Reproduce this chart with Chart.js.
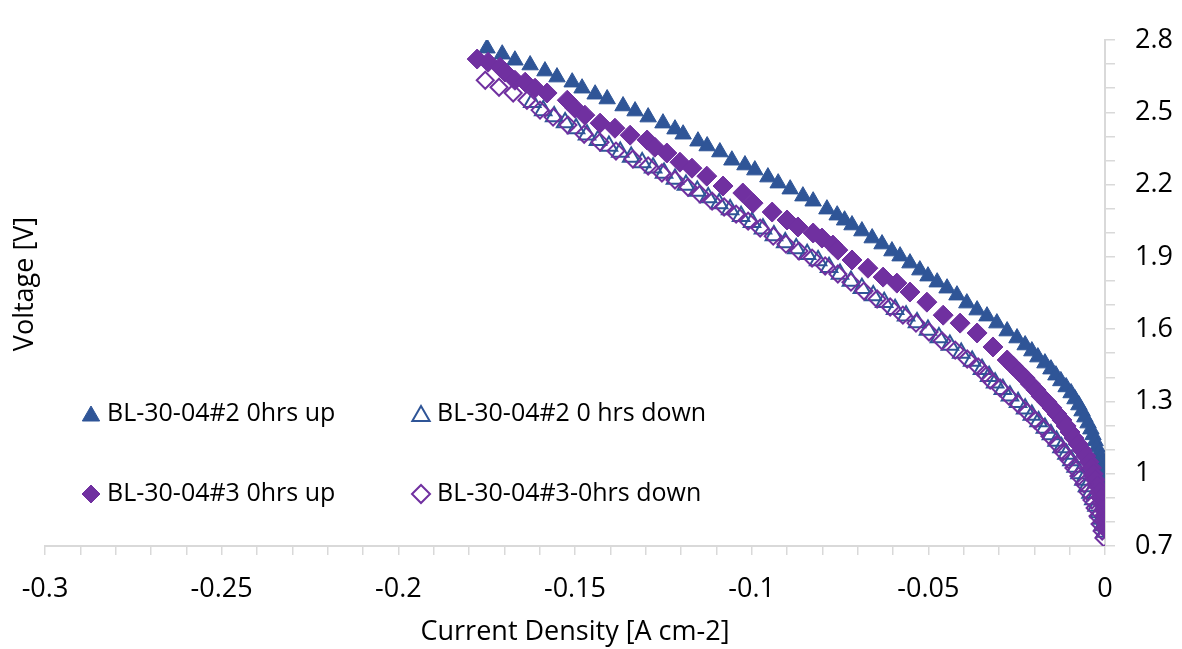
<!DOCTYPE html>
<html>
<head>
<meta charset="utf-8">
<style>
  body { margin: 0; background: #ffffff; }
  #iv-canvas { display: block; }
</style>
</head>
<body>
<canvas id="iv-canvas" width="1182" height="649"></canvas>
<script src="https://cdn.jsdelivr.net/npm/chart.js@4.4.1/dist/chart.umd.min.js"></script>
<script>
  // BL-30-04#2 0hrs up  (current density [A cm-2], voltage [V])
  let up2_i = [-0.1749, -0.1706, -0.1670, -0.1627, -0.1585, -0.1551, -0.1508, -0.1480, -0.1443, -0.1409,
               -0.1364, -0.1330, -0.1293, -0.1251, -0.1217, -0.1194, -0.1152, -0.1126, -0.1090, -0.1056,
               -0.1019, -0.0991, -0.0954, -0.0925, -0.0891, -0.0855, -0.0826, -0.0787, -0.0758, -0.0737,
               -0.0716, -0.0688, -0.0659, -0.0631, -0.0603, -0.0580, -0.0552, -0.0524, -0.0501, -0.0475,
               -0.0447, -0.0419, -0.0391, -0.0362, -0.0334, -0.0306, -0.0277, -0.0249, -0.0226, -0.0207,
               -0.0190, -0.0170, -0.0153, -0.0139, -0.0125, -0.0110, -0.0096, -0.0085, -0.0074, -0.0065,
               -0.0057, -0.0048, -0.0040, -0.0034, -0.0028, -0.0023, -0.0017, -0.0014, -0.0011, -0.0008,
               -0.0006, -0.0003, -0.0002, -0.0001, -0.0001, -0.00005, -0.00003, -0.00002];
  let up2_v = [2.766, 2.741, 2.716, 2.696, 2.671, 2.646, 2.625, 2.600, 2.575, 2.555,
               2.526, 2.505, 2.480, 2.455, 2.430, 2.409, 2.380, 2.360, 2.335, 2.301,
               2.281, 2.260, 2.231, 2.206, 2.181, 2.152, 2.131, 2.098, 2.073, 2.052,
               2.032, 2.007, 1.978, 1.953, 1.924, 1.903, 1.874, 1.845, 1.820, 1.795,
               1.770, 1.741, 1.708, 1.679, 1.654, 1.625, 1.592, 1.563, 1.534, 1.509,
               1.484, 1.459, 1.434, 1.409, 1.385, 1.360, 1.335, 1.310, 1.285, 1.260,
               1.235, 1.210, 1.185, 1.161, 1.136, 1.111, 1.086, 1.061, 1.036, 1.011,
               0.986, 0.961, 0.936, 0.912, 0.887, 0.862, 0.837, 0.812];

  // BL-30-04#2 0 hrs down
  let down2_i = [-0.1621, -0.1590, -0.1559, -0.1528, -0.1497, -0.1466, -0.1435, -0.1404, -0.1372, -0.1341,
                 -0.1310, -0.1279, -0.1248, -0.1217, -0.1186, -0.1154, -0.1123, -0.1092, -0.1061, -0.1030,
                 -0.0999, -0.0968, -0.0937, -0.0905, -0.0874, -0.0843, -0.0812, -0.0781, -0.0750, -0.0719,
                 -0.0688, -0.0656, -0.0625, -0.0594, -0.0563, -0.0532, -0.0501, -0.0470, -0.0439, -0.0407,
                 -0.0376, -0.0348, -0.0328, -0.0311, -0.0289, -0.0269, -0.0246, -0.0226, -0.0207, -0.0188,
                 -0.0170, -0.0153, -0.0137, -0.0123, -0.0109, -0.0095, -0.0083, -0.0072, -0.0061, -0.0051,
                 -0.0041, -0.0033, -0.0024, -0.0017, -0.0011, -0.0007, -0.0001];
  let down2_v = [2.542, 2.507, 2.482, 2.458, 2.433, 2.407, 2.384, 2.360, 2.335, 2.314,
                 2.292, 2.270, 2.248, 2.223, 2.198, 2.173, 2.146, 2.121, 2.097, 2.069,
                 2.044, 2.017, 1.989, 1.960, 1.935, 1.911, 1.885, 1.857, 1.829, 1.800,
                 1.770, 1.740, 1.712, 1.683, 1.656, 1.628, 1.596, 1.565, 1.534, 1.501,
                 1.468, 1.434, 1.405, 1.378, 1.351, 1.324, 1.297, 1.270, 1.244, 1.217,
                 1.190, 1.163, 1.136, 1.109, 1.082, 1.055, 1.028, 1.001, 0.974, 0.947,
                 0.920, 0.893, 0.866, 0.839, 0.812, 0.785, 0.758];

  // BL-30-04#3 0hrs up
  let up3_i = [-0.1777, -0.1746, -0.1712, -0.1698, -0.1670, -0.1641, -0.1613, -0.1579, -0.1522, -0.1500,
               -0.1472, -0.1429, -0.1387, -0.1344, -0.1296, -0.1274, -0.1240, -0.1203, -0.1169, -0.1127,
               -0.1081, -0.1025, -0.0996, -0.0942, -0.0900, -0.0869, -0.0826, -0.0801, -0.0770, -0.0756,
               -0.0716, -0.0671, -0.0628, -0.0589, -0.0552, -0.0504, -0.0458, -0.0410, -0.0362, -0.0317,
               -0.0277, -0.0260, -0.0243, -0.0226, -0.0211, -0.0195, -0.0181, -0.0164, -0.0150, -0.0136,
               -0.0122, -0.0110, -0.0099, -0.0088, -0.0076, -0.0065, -0.0054, -0.0045, -0.0038, -0.0033,
               -0.0027, -0.0021, -0.0016, -0.0011, -0.0007, -0.0004, -0.0002, -0.0001, -0.00005];
  let up3_v = [2.721, 2.708, 2.687, 2.667, 2.633, 2.625, 2.600, 2.580, 2.550, 2.517,
               2.488, 2.455, 2.434, 2.405, 2.385, 2.355, 2.331, 2.293, 2.268, 2.235,
               2.194, 2.165, 2.123, 2.086, 2.053, 2.024, 1.999, 1.978, 1.949, 1.928,
               1.887, 1.853, 1.816, 1.791, 1.754, 1.712, 1.658, 1.625, 1.584, 1.526,
               1.472, 1.447, 1.422, 1.397, 1.372, 1.347, 1.322, 1.297, 1.273, 1.248,
               1.223, 1.198, 1.173, 1.148, 1.123, 1.098, 1.073, 1.049, 1.024, 0.999,
               0.974, 0.949, 0.924, 0.899, 0.874, 0.849, 0.824, 0.800, 0.775];

  // BL-30-04#3-0hrs down
  let down3_i = [-0.1754, -0.1715, -0.1675, -0.1636, -0.1599, -0.1562, -0.1520, -0.1474, -0.1429, -0.1384,
                 -0.1336, -0.1293, -0.1254, -0.1217, -0.1180, -0.1146, -0.1112, -0.1078, -0.1044, -0.1010,
                 -0.0976, -0.0939, -0.0903, -0.0866, -0.0829, -0.0792, -0.0756, -0.0719, -0.0682, -0.0645,
                 -0.0608, -0.0572, -0.0535, -0.0498, -0.0461, -0.0424, -0.0390, -0.0359, -0.0340, -0.0325,
                 -0.0297, -0.0272, -0.0246, -0.0221, -0.0198, -0.0175, -0.0156, -0.0136, -0.0119, -0.0102,
                 -0.0088, -0.0074, -0.0059, -0.0048, -0.0037, -0.0028, -0.0020, -0.0014, -0.0008, -0.0003];
  let down3_v = [2.633, 2.604, 2.580, 2.550, 2.509, 2.480, 2.447, 2.409, 2.376, 2.339,
                 2.306, 2.277, 2.248, 2.219, 2.189, 2.160, 2.131, 2.107, 2.077, 2.048,
                 2.019, 1.986, 1.953, 1.924, 1.895, 1.862, 1.829, 1.795, 1.758, 1.725,
                 1.692, 1.658, 1.625, 1.588, 1.551, 1.513, 1.476, 1.443, 1.414, 1.389,
                 1.356, 1.322, 1.289, 1.256, 1.223, 1.190, 1.156, 1.123, 1.090, 1.057,
                 1.024, 0.990, 0.957, 0.924, 0.891, 0.858, 0.824, 0.791, 0.762, 0.733];

  // Axis tick labels
  let x_tick_labels = ['-0.3', '-0.25', '-0.2', '-0.15', '-0.1', '-0.05', '0'];
  let y_tick_labels = ['0.7', '1', '1.3', '1.6', '1.9', '2.2', '2.5', '2.8'];

  let blue = '#2f5597';
  let purple = '#7030a0';
  let axis_grey = '#d9d9d9';
  let font_family = '"Open Sans", "Noto Sans", sans-serif';

  let to_points = function(i_list, v_list) {
    return i_list.map(function(x, k) { return {x: x, y: v_list[k]}; });
  };

  // Only some of the (minor) ticks get a label
  let tick_label = function(labels, value) {
    for (let k = 0; k < labels.length; k++) {
      if (Math.abs(parseFloat(labels[k]) - value) < 1e-6) return labels[k];
    }
    return '';
  };

  // Legend sits inside the plot area, two columns; Y title is on the left
  let legend_spots = [
    {ds: 0, x: 91, y: 414},
    {ds: 1, x: 421, y: 414},
    {ds: 2, x: 91, y: 494},
    {ds: 3, x: 421, y: 494}
  ];
  let custom_legend = {
    id: 'customLegend',
    afterDraw: function(chart) {
      let ctx = chart.ctx;
      ctx.save();
      legend_spots.forEach(function(spot) {
        let ds = chart.data.datasets[spot.ds];
        let is_tri = ds.pointStyle === 'triangle';
        ctx.fillStyle = ds.backgroundColor;
        ctx.strokeStyle = ds.borderColor;
        ctx.lineWidth = ds.borderWidth;
        Chart.helpers.drawPoint(ctx, {
          pointStyle: ds.pointStyle,
          radius: is_tri ? 10 : 9,
          rotation: 0,
          borderWidth: ds.borderWidth
        }, spot.x, spot.y + (is_tri ? 2 : 0));
        ctx.fillStyle = '#000000';
        ctx.font = '25px ' + font_family;
        ctx.textAlign = 'left';
        ctx.textBaseline = 'middle';
        ctx.fillText(ds.label, spot.x + 16, spot.y);
      });
      // Y axis title on the left side of the plot
      ctx.translate(25, 284);
      ctx.rotate(-Math.PI / 2);
      ctx.textAlign = 'center';
      ctx.textBaseline = 'middle';
      ctx.fillStyle = '#000000';
      ctx.font = '27px ' + font_family;
      ctx.fillText('Voltage [V]', 0, 0);
      ctx.restore();
    }
  };

  let iv_canvas = document.getElementById('iv-canvas');
  let iv_chart = new Chart(iv_canvas.getContext('2d'), {
    type: 'scatter',
    data: {
      datasets: [
        {
          label: 'BL-30-04#2 0hrs up',
          data: to_points(up2_i, up2_v),
          pointStyle: 'triangle',
          pointRadius: 9.5,
          borderWidth: 1,
          backgroundColor: blue,
          borderColor: blue,
          order: 4
        },
        {
          label: 'BL-30-04#2 0 hrs down',
          data: to_points(down2_i, down2_v),
          pointStyle: 'triangle',
          pointRadius: 9.5,
          borderWidth: 2,
          backgroundColor: 'rgba(255,255,255,0)',
          borderColor: blue,
          order: 3
        },
        {
          label: 'BL-30-04#3 0hrs up',
          data: to_points(up3_i, up3_v),
          pointStyle: 'rectRot',
          pointRadius: 10,
          borderWidth: 1,
          backgroundColor: purple,
          borderColor: purple,
          order: 2
        },
        {
          label: 'BL-30-04#3-0hrs down',
          data: to_points(down3_i, down3_v),
          pointStyle: 'rectRot',
          pointRadius: 8.5,
          borderWidth: 2,
          backgroundColor: 'rgba(255,255,255,0)',
          borderColor: purple,
          order: 1
        }
      ]
    },
    options: {
      responsive: false,
      animation: false,
      layout: { padding: { left: 45, top: 40, right: 0, bottom: 0 } },
      plugins: {
        legend: { display: false },
        tooltip: { enabled: false }
      },
      scales: {
        x: {
          type: 'linear',
          position: 'bottom',
          min: -0.3,
          max: 0,
          afterFit: function(scale) { scale.height = 103; },
          ticks: {
            stepSize: 0.01,
            autoSkip: false,
            maxRotation: 0,
            padding: 18,
            color: '#000000',
            font: { family: font_family, size: 27 },
            callback: function(value) { return tick_label(x_tick_labels, value); }
          },
          grid: { drawOnChartArea: false, drawTicks: true, tickLength: 9, color: axis_grey, lineWidth: 1.5 },
          border: { color: axis_grey, width: 2 },
          title: {
            display: true,
            text: 'Current Density [A cm-2]',
            color: '#000000',
            font: { family: font_family, size: 27 },
            padding: { top: 0, bottom: 0 }
          }
        },
        y: {
          type: 'linear',
          position: 'right',
          min: 0.7,
          max: 2.8,
          afterFit: function(scale) { scale.width = 77; },
          ticks: {
            stepSize: 0.1,
            autoSkip: false,
            padding: 20,
            color: '#000000',
            font: { family: font_family, size: 27 },
            callback: function(value) { return tick_label(y_tick_labels, value); }
          },
          grid: { drawOnChartArea: false, drawTicks: true, tickLength: 10, color: axis_grey, lineWidth: 1.5 },
          border: { color: axis_grey, width: 2 }
        }
      }
    },
    plugins: [custom_legend]
  });
</script>
</body>
</html>
